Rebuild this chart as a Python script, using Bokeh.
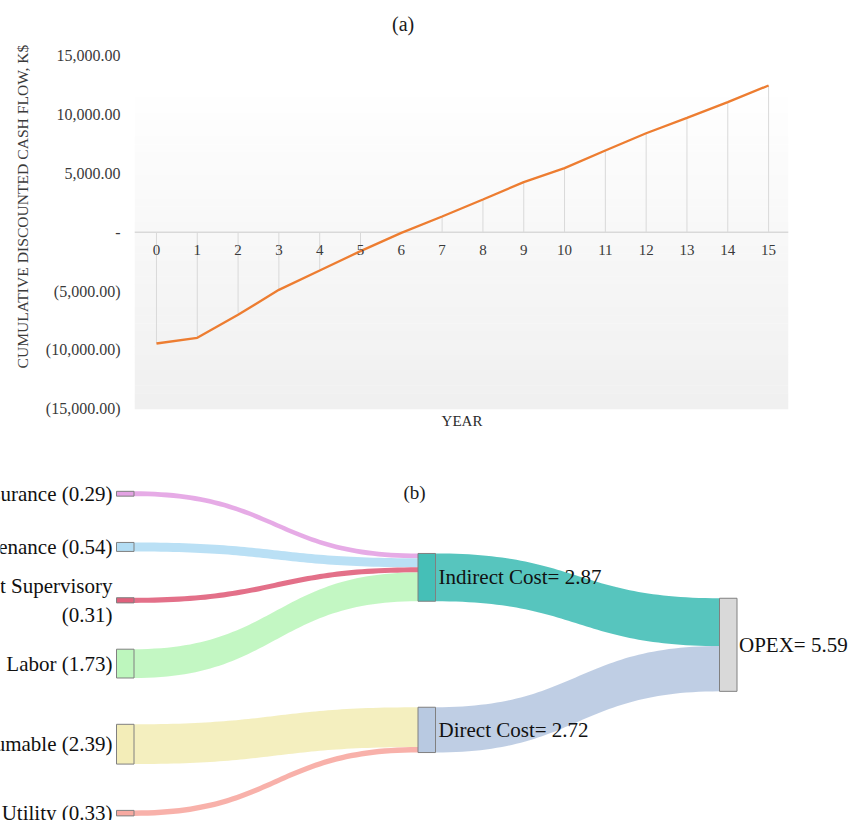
import numpy as np
from bokeh.plotting import figure
from bokeh.models import Range1d, FixedTicker, Span, BoxAnnotation, Title
from bokeh.embed import file_html
from bokeh.resources import INLINE
from bokeh.core.properties import value

# ---------------- data: (a) cumulative discounted cash flow ----------------
years = list(range(16))
cum_dcf = [-9450, -8970, -7010, -4890, -3250, -1600, -50, 1340,
           2790, 4260, 5450, 6950, 8420, 9730, 11060, 12480]
y_ticks = [-15000, -10000, -5000, 0, 5000, 10000, 15000]
y_tick_labels = ["(15,000.00)", "(10,000.00)", "(5,000.00)", "-",
                 "5,000.00", "10,000.00", "15,000.00"]
y_title = "CUMULATIVE DISCOUNTED CASH FLOW, K$"
x_title = "YEAR"
title_a = "(a)"

# ---------------- data: (b) OPEX sankey ----------------
src_names = ["Insurance", "Maintenance", "Plant Supervisory", "Labor", "Consumable", "Utility"]
src_values = [0.29, 0.54, 0.31, 1.73, 2.39, 0.33]
src_targets = [0, 0, 0, 0, 1, 1]           # index into mid_names
mid_names = ["Indirect Cost", "Direct Cost"]
mid_values = [2.87, 2.72]
total_name = "OPEX"
total_value = 5.59
title_b = "(b)"

# ---------------- styles ----------------
FONT = "Liberation Serif"
W = 848
H1 = 445
H2 = 375
LINE_COLOR = "#ED7D31"
src_colors = ["#E3A2E3", "#B3DDF4", "#E0607C", "#BDF6BD", "#F3EDB8", "#F7A9A1"]
mid_colors = ["#45BFB7", "#B8C9E1"]
total_color = "#D9D9D9"

# ---------------- (a) line chart ----------------
ky = 58.83 / 5000.0      # px per K$
zero_py = 231.8          # pixel y of value 0
x0_px, dx_px = 155.0, 40.87
frame_l, frame_r = 133, 788

def xd(px):
    return (px - x0_px) / dx_px

def yd(py):
    return (zero_py - py) / ky

p1 = figure(width=W, height=H1,
            x_range=Range1d(xd(frame_l), xd(frame_r)),
            y_range=Range1d(yd(H1), yd(0)),
            x_axis_type=None, output_backend="svg", toolbar_location=None,
            min_border_left=frame_l, min_border_right=W - frame_r,
            min_border_top=0, min_border_bottom=0)
p1.outline_line_color = None
p1.grid.visible = False
p1.background_fill_color = "white"
p1.border_fill_color = "white"

# gradient plot-area background
g_top, g_bot = yd(97), -15000
n_band = 40
edges = np.linspace(g_top, g_bot, n_band + 1)
for i in range(n_band):
    f = i / (n_band - 1)
    c = int(round(254 - 14 * f))
    p1.add_layout(BoxAnnotation(top=edges[i], bottom=edges[i + 1] - 30,
                                fill_color=(c, c, c), fill_alpha=1.0,
                                line_color=None, level="underlay"))

p1.add_layout(Span(location=0, dimension="width", line_color="#D9D9D9",
                   line_width=1.5, level="underlay"))

p1.segment(x0=years, y0=[0] * len(years), x1=years, y1=cum_dcf,
           line_color="#D9D9D9", line_width=1)
p1.line(years, cum_dcf, line_color=LINE_COLOR, line_width=2.3)

p1.text(x=years, y=[0] * len(years), text=[str(v) for v in years],
        text_font=value(FONT), text_font_size="15px", text_color="#3A3A3A",
        text_align="center", text_baseline="middle", y_offset=18)

ya = p1.yaxis[0]
ya.ticker = FixedTicker(ticks=y_ticks)
ya.major_label_overrides = {t: l for t, l in zip(y_ticks, y_tick_labels)}
ya.major_label_text_font = FONT
ya.major_label_text_font_size = "16px"
ya.major_label_text_color = "#3A3A3A"
ya.axis_line_color = None
ya.major_tick_line_color = None
ya.minor_tick_line_color = None
ya.major_tick_out = 0
ya.major_tick_in = 0
ya.major_label_standoff = 14

p1.add_layout(Title(text=y_title, align="left", offset=H1 - 368, standoff=23,
                    text_font=FONT, text_font_size="15.6px",
                    text_font_style="normal", text_color="#3A3A3A"), "left")

p1.text(x=[xd(402)], y=[yd(23)], text=[title_a], text_font=value(FONT),
        text_font_size="20px", text_color="#1A1A1A",
        text_align="center", text_baseline="middle")
p1.text(x=[xd(461)], y=[yd(420)], text=[x_title], text_font=value(FONT),
        text_font_size="15px", text_color="#2A2A2A",
        text_align="center", text_baseline="middle")

# ---------------- (b) sankey ----------------
ku = 16.65                # px per unit of cost
col_px = [116.0, 417.0, 719.0]
col_step = 301.5
node_w = 17.5 / col_step
top_py = H1

def uy(py):
    return (py - top_py) / ku

def col_layout(vals, center, gap):
    total = sum(vals) + gap * (len(vals) - 1)
    y = center - total / 2.0
    tops = []
    for v in vals:
        tops.append(y)
        y += v + gap
    return tops

src_tops = col_layout(src_values, uy(653.1), 46.3 / ku)
mid_tops = col_layout(mid_values, uy(652.5), 106.0 / ku)
tot_top = col_layout([total_value], uy(644.3), 0)[0]

p2 = figure(width=W, height=H2,
            x_range=Range1d((0 - col_px[0]) / col_step, (W - col_px[0]) / col_step),
            y_range=Range1d(uy(H1 + H2), 0),
            x_axis_type=None, y_axis_type=None,
            output_backend="svg", toolbar_location=None,
            min_border=0, min_border_left=0, min_border_right=0,
            min_border_top=0, min_border_bottom=0)
p2.outline_line_color = None
p2.grid.visible = False

t = np.linspace(0, 1, 60)

def band(xa, xb, ya0, ya1, yb0, yb1):
    xm = (xa + xb) / 2.0
    bx = (1 - t) ** 3 * xa + 3 * (1 - t) ** 2 * t * xm + 3 * (1 - t) * t ** 2 * xm + t ** 3 * xb
    def by(y0, y1):
        return (1 - t) ** 3 * y0 + 3 * (1 - t) ** 2 * t * y0 + 3 * (1 - t) * t ** 2 * y1 + t ** 3 * y1
    top = by(ya0, yb0)
    bot = by(ya1, yb1)
    return list(bx) + list(bx[::-1]), list(top) + list(bot[::-1])

link_xs, link_ys, link_cols = [], [], []
mid_fill = [0.0] * len(mid_values)
for i, v in enumerate(src_values):
    m = src_targets[i]
    ty0 = mid_tops[m] + mid_fill[m]
    mid_fill[m] += v
    xs, ys = band(0 + node_w, 1.0, src_tops[i], src_tops[i] + v, ty0, ty0 + v)
    link_xs.append(xs); link_ys.append(ys); link_cols.append(src_colors[i])
tot_fill = 0.0
for m, v in enumerate(mid_values):
    ty0 = tot_top + tot_fill
    tot_fill += v
    xs, ys = band(1.0 + node_w, 2.0, mid_tops[m], mid_tops[m] + v, ty0, ty0 + v)
    link_xs.append(xs); link_ys.append(ys); link_cols.append(mid_colors[m])

p2.patches(xs=link_xs, ys=link_ys, fill_color=link_cols, fill_alpha=0.9, line_color=None)

node_left = [0.0] * len(src_values) + [1.0] * len(mid_values) + [2.0]
node_top = src_tops + mid_tops + [tot_top]
node_val = src_values + mid_values + [total_value]
node_col = src_colors + mid_colors + [total_color]
p2.quad(left=node_left, right=[x + node_w for x in node_left],
        top=node_top, bottom=[a + b for a, b in zip(node_top, node_val)],
        fill_color=node_col, fill_alpha=1.0, line_color="#808080", line_width=1)

def src_label(name, v):
    if len(name) > 14:
        return f"{name}\n({v:.2f})"
    return f"{name} ({v:.2f})"

p2.text(x=[0.0] * len(src_values), y=[a + v / 2 for a, v in zip(src_tops, src_values)],
        text=[src_label(n, v) for n, v in zip(src_names, src_values)],
        text_font=value(FONT), text_font_size="21px", text_color="#111111",
        text_align="right", text_baseline="middle", x_offset=-4)
p2.text(x=[1.0 + node_w] * len(mid_values), y=[a + v / 2 for a, v in zip(mid_tops, mid_values)],
        text=[f"{n}= {v:.2f}" for n, v in zip(mid_names, mid_values)],
        text_font=value(FONT), text_font_size="21px", text_color="#111111",
        text_align="left", text_baseline="middle", x_offset=3)
p2.text(x=[2.0 + node_w], y=[tot_top + total_value / 2],
        text=[f"{total_name}= {total_value:.2f}"],
        text_font=value(FONT), text_font_size="21px", text_color="#111111",
        text_align="left", text_baseline="middle", x_offset=2)
p2.text(x=[(414 - col_px[0]) / col_step], y=[uy(492)], text=[title_b],
        text_font=value(FONT), text_font_size="19px", text_color="#1A1A1A",
        text_align="center", text_baseline="middle")

open("out.html", "w").write(file_html([p1, p2], INLINE))
